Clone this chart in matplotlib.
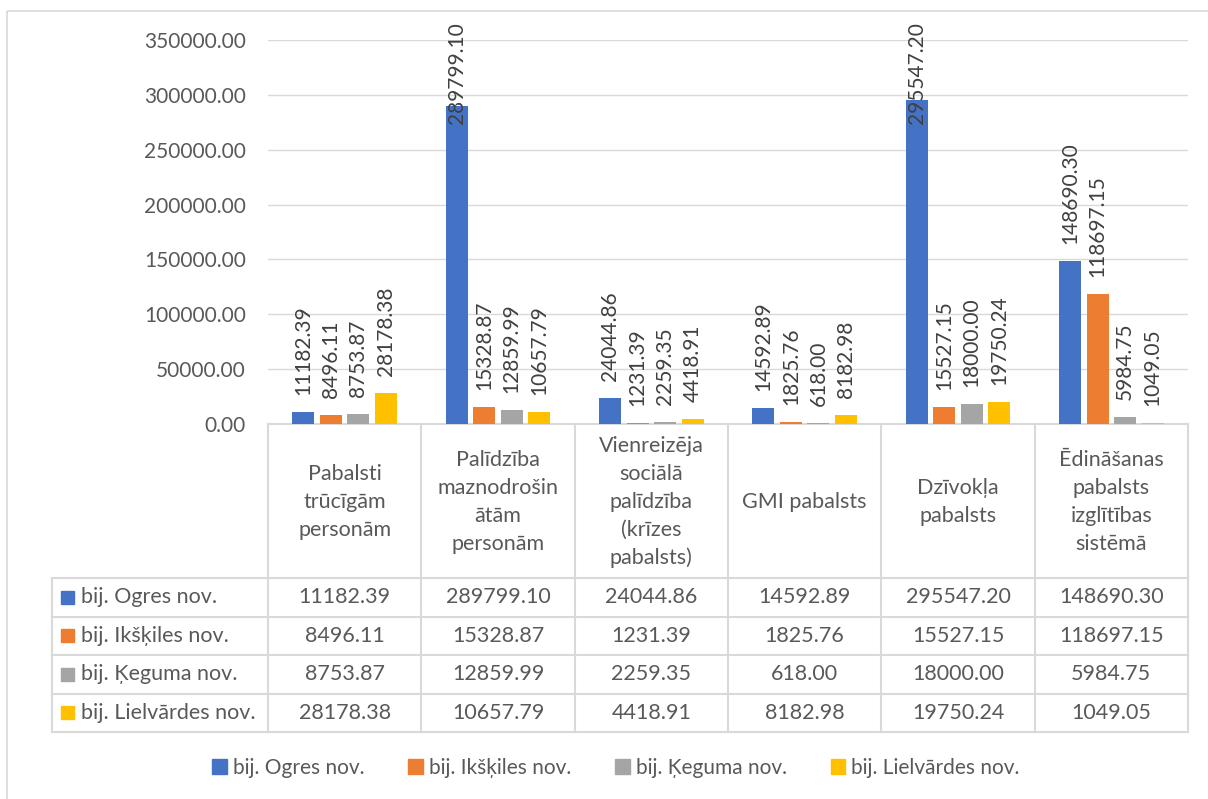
import matplotlib.pyplot as plt
import numpy as np
from matplotlib.patches import Patch, Rectangle

categories = [
    "Pabalsti\ntrūcīgām\npersonām",
    "Palīdzība\nmaznodrošin\nātām\npersonām",
    "Vienreizēja\nsociālā\npalīdzība\n(krīzes\npabalsts)",
    "GMI pabalsts",
    "Dzīvokļa\npabalsts",
    "Ēdināšanas\npabalsts\nizglītības\nsistēmā",
]
series_names = ["bij. Ogres nov.", "bij. Ikšķiles nov.", "bij. Ķeguma nov.", "bij. Lielvārdes nov."]
ogre = [11182.39, 289799.10, 24044.86, 14592.89, 295547.20, 148690.30]
ikskile = [8496.11, 15328.87, 1231.39, 1825.76, 15527.15, 118697.15]
kegums = [8753.87, 12859.99, 2259.35, 618.00, 18000.00, 5984.75]
lielvarde = [28178.38, 10657.79, 4418.91, 8182.98, 19750.24, 1049.05]
y_ticks = [0, 50000, 100000, 150000, 200000, 250000, 300000, 350000]

series = [ogre, ikskile, kegums, lielvarde]
colors = ["#4472C4", "#ED7D31", "#A5A5A5", "#FFC000"]
TEXT = "#595959"
LABEL = "#404040"
GRID = "#D9D9D9"
FS = 15

plt.rcParams["font.family"] = ["Lato", "DejaVu Sans"]

# layout in pixels (origin top-left)
W, H = 1208, 799
plot_l, plot_r = 268, 1188
plot_top, plot_bot = 40, 424
table_l = 52
header_bot = 578
row_h = 38.5
table_bot = header_bot + row_h * len(series)
label_limit = 22


def fig_box(l, t, r, b):
    return [l / W, 1 - b / H, (r - l) / W, (b - t) / H]


fig = plt.figure(figsize=(W / 100, H / 100), dpi=100)

# overlay in pixel coords for the border and the data table
ov = fig.add_axes([0, 0, 1, 1])
ov.set_xlim(0, W)
ov.set_ylim(H, 0)
ov.axis("off")
ov.patch.set_visible(False)
ov.add_patch(Rectangle((7, 11), W, H, fill=False, ec=GRID, lw=1.2))

ax = fig.add_axes(fig_box(plot_l, plot_top, plot_r, plot_bot))
ax.patch.set_visible(False)

n = len(categories)
x = np.arange(n)
bar_w = 0.1435
step = 0.179
texts = []
for i, (vals, c) in enumerate(zip(series, colors)):
    xs = x + (i - 1.5) * step
    ax.bar(xs, vals, width=bar_w, color=c, zorder=2)
    for xi, v in zip(xs, vals):
        t = ax.annotate(f"{v:.2f}", (xi, v), xytext=(0, 17 * 0.72), textcoords="offset points",
                        rotation=90, ha="center", va="bottom", fontsize=FS, color=LABEL)
        texts.append(t)

ax.set_xlim(-0.5, n - 0.5)
ax.set_ylim(0, 350000)
ax.set_xticks([])
ax.set_yticks(y_ticks)
ax.set_yticklabels([f"{v:.2f}" for v in y_ticks])
ax.tick_params(axis="y", length=0, pad=22 * 0.72, labelsize=FS, labelcolor=TEXT)
ax.yaxis.grid(True, color=GRID, lw=1.0, zorder=0)
ax.set_axisbelow(True)
for s in ax.spines.values():
    s.set_visible(False)

# push labels of tall bars down so they stay inside the chart
fig.canvas.draw()
renderer = fig.canvas.get_renderer()
for t in texts:
    bb = t.get_window_extent(renderer)
    over = bb.y1 - (H - label_limit)
    if over > 0:
        ox, oy = t.xyann
        t.xyann = (ox, oy - over * 0.72)

# data table
col_w = (plot_r - plot_l) / n
edges = [plot_l + k * col_w for k in range(n + 1)]
lw_t = 1.5
ov.plot([plot_l, plot_r], [plot_bot, plot_bot], color=GRID, lw=lw_t)
for e in edges:
    ov.plot([e, e], [plot_bot, table_bot], color=GRID, lw=lw_t)
ov.plot([table_l, table_l], [header_bot, table_bot], color=GRID, lw=lw_t)
for j in range(len(series) + 1):
    y = header_bot + j * row_h
    ov.plot([table_l, plot_r], [y, y], color=GRID, lw=lw_t)

for k, cat in enumerate(categories):
    cx = edges[k] + col_w / 2
    ov.text(cx, (plot_bot + header_bot) / 2 + 1, cat, ha="center", va="center",
            multialignment="center", linespacing=1.5, fontsize=FS + 0.5, color=TEXT)

for j, (name, vals, c) in enumerate(zip(series_names, series, colors)):
    yc = header_bot + (j + 0.5) * row_h
    ov.add_patch(Rectangle((61, yc - 6.5), 13, 13, color=c))
    ov.text(81, yc, name, ha="left", va="center", fontsize=FS + 0.5, color=TEXT)
    for k, v in enumerate(vals):
        ov.text(edges[k] + col_w / 2, yc, f"{v:.2f}", ha="center", va="center",
                fontsize=FS + 0.5, color=TEXT)

handles = [Patch(color=c) for c in colors]
fig.legend(handles, series_names, loc="center", bbox_to_anchor=(616 / W, 1 - 768 / H),
           ncol=4, frameon=False, fontsize=FS, handlelength=0.7, handleheight=0.7,
           handletextpad=0.3, columnspacing=2.1, labelcolor=TEXT)

fig.savefig("out.png", dpi=100)
